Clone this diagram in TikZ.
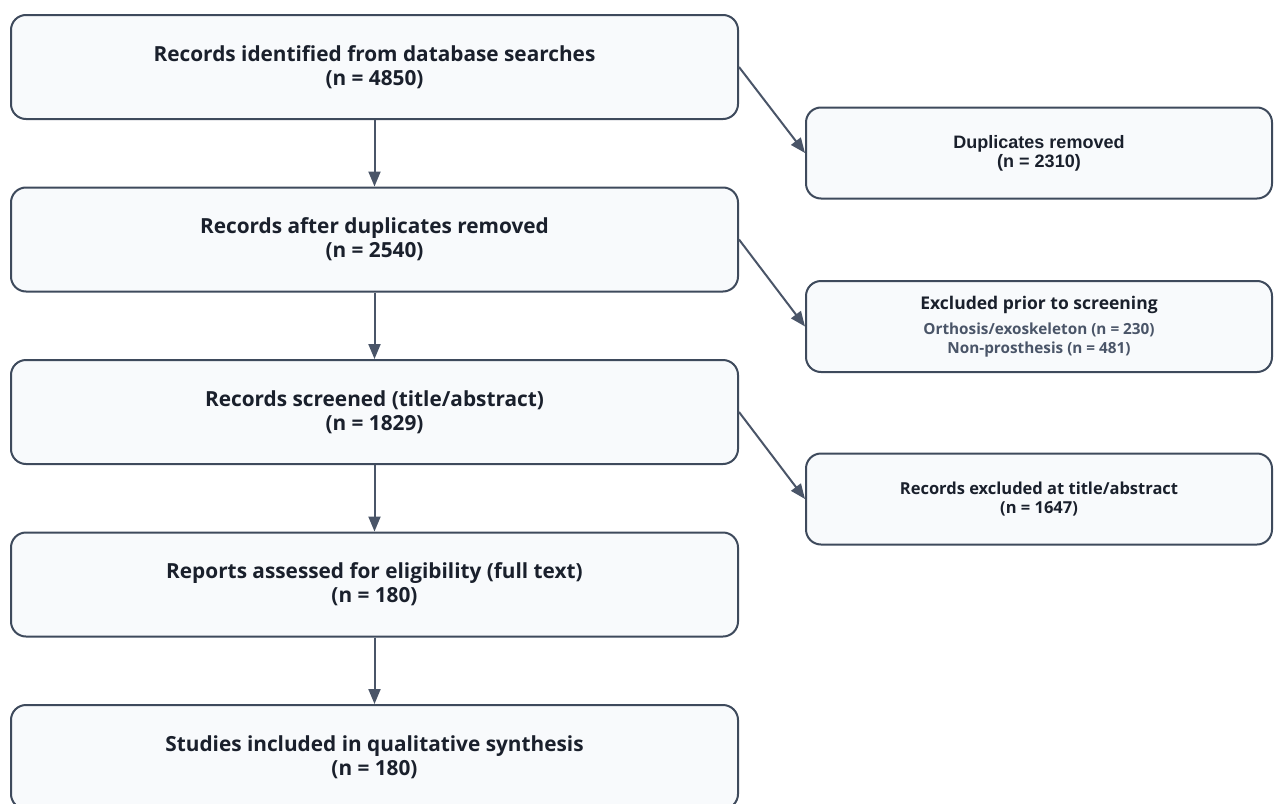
\documentclass[tikz,border=0pt]{standalone}
\usepackage{fontspec}
\setmainfont{Open Sans}
\newfontfamily\arialfont{Liberation Sans}
\usetikzlibrary{arrows.meta}

\definecolor{boxfill}{HTML}{F8FAFC}
\definecolor{boxline}{HTML}{3E4A5C}
\definecolor{flowline}{HTML}{4A5568}
\definecolor{maintext}{HTML}{1A202C}
\definecolor{subtext}{HTML}{4A5568}

\tikzset{
  mainbox/.style={draw=boxline,fill=boxfill,line width=2pt,rounded corners=15pt,
    minimum width=727pt,minimum height=104pt,align=center,text=maintext,
    font=\fontsize{20.8}{24}\selectfont\bfseries},
  sidebox/.style={draw=boxline,fill=boxfill,line width=2pt,rounded corners=15pt,
    minimum width=466pt,minimum height=91pt,align=center,text=maintext,
    font=\fontsize{16.5}{19}\selectfont\bfseries},
  flow/.style={draw=flowline,line width=2pt,-{Triangle[length=15pt,width=12pt]}}
}

\begin{document}
\begin{tikzpicture}[x=1pt,y=-1pt]

\useasboundingbox (0,0) rectangle (1274,803);

\node[mainbox] (identified) at (374.5, 67) {Records identified from database searches\\(n = 4850)};
\node[mainbox] (afterdup) at (374.5, 239.5) {Records after duplicates removed\\(n = 2540)};
\node[mainbox] (screened) at (374.5, 412) {Records screened (title/abstract)\\(n = 1829)};
\node[mainbox] (assessed) at (374.5, 584.5) {Reports assessed for eligibility (full text)\\(n = 180)};
\node[mainbox] (included) at (374.5, 757) {Studies included in qualitative synthesis\\(n = 180)};

\node[sidebox,font=\fontsize{18}{19}\selectfont\bfseries\arialfont] (duplicates) at (1039, 153) {Duplicates removed\\(n = 2310)};
\node[sidebox,font=\fontsize{17.5}{19}\selectfont\bfseries] (prior) at (1039, 326.5)
  {Excluded prior to screening\\[6pt]
   \fontsize{15.3}{17}\selectfont\color{subtext}Orthosis/exoskeleton (n = 230)\\
   \fontsize{15.3}{17}\selectfont\color{subtext}Non-prosthesis (n = 481)};
\node[sidebox] (excluded) at (1039, 499) {Records excluded at title/abstract\\(n = 1647)};

\draw[flow] (identified) -- (afterdup);
\draw[flow] (afterdup) -- (screened);
\draw[flow] (screened) -- (assessed);
\draw[flow] (assessed) -- (included);

\draw[flow] (identified.east) -- (duplicates.west);
\draw[flow] (afterdup.east) -- (prior.west);
\draw[flow] (screened.east) -- (excluded.west);

\end{tikzpicture}
\end{document}
